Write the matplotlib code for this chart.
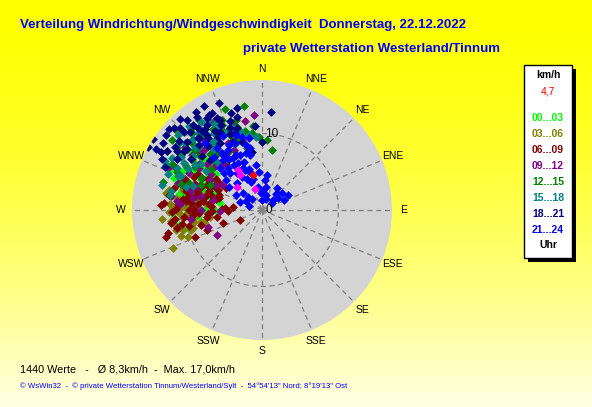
import numpy as np
import matplotlib
matplotlib.use('Agg')
import matplotlib.pyplot as plt

W_PX, H_PX = 592, 407

TITLE = 'Verteilung Windrichtung/Windgeschwindigkeit  Donnerstag, 22.12.2022'
SUBTITLE = 'private Wetterstation Westerland/Tinnum'
STATS = '1440 Werte   -   Ø 8,3km/h  -  Max. 17,0km/h'
FOOTER = '© WsWin32  -  © private Wetterstation Tinnum/Westerland/Sylt  -  54°54\'13" Nord; 8°19\'13" Ost'

directions = ['N', 'NNE', 'NE', 'ENE', 'E', 'ESE', 'SE', 'SSE',
              'S', 'SSW', 'SW', 'WSW', 'W', 'WNW', 'NW', 'NNW']
speed_max = 17.0
current_speed = 4.7
current_dir = 346

hour_labels = ['00...03', '03...06', '06...09', '09...12',
               '12...15', '15...18', '18...21', '21...24']
hour_colors = ['#00ff00', '#808000', '#800000', '#800080',
               '#008000', '#008080', '#000080', '#0000ff']

# wind direction (deg, clockwise from N) and speed (km/h), per 3-hour block
dir_00_03 = [256, 262, 268, 271, 275, 279, 283, 287, 290, 294, 298, 302, 306, 311, 316, 265, 273, 281, 289, 297,
             305, 270, 278, 286, 293, 300, 308, 260, 284, 292, 299, 274, 280, 288, 296, 303, 312, 267, 277, 285,
             276, 282, 291, 301, 309, 318, 263, 287, 295, 305, 279, 298]
spd_00_03 = [10.0, 9.2, 11.8, 7.5, 8.8, 10.5, 6.8, 9.6, 12.2, 8.1, 10.9, 7.4, 9.0, 11.1, 8.6, 8.4, 10.2, 12.5, 7.0, 11.4,
             9.8, 6.2, 9.1, 8.0, 13.0, 10.3, 7.7, 11.0, 10.8, 6.5, 9.4, 12.0, 5.6, 11.6, 8.9, 12.8, 10.0, 7.2, 8.3, 9.9,
             9.5, 11.0, 10.6, 8.3, 12.0, 9.6, 8.9, 7.9, 11.8, 10.7, 12.3, 6.9]

dir_03_06 = [247, 252, 256, 260, 263, 266, 269, 272, 275, 278, 281, 284, 288, 258, 264, 270, 276, 282,
             254, 261, 267, 273, 279, 285, 250, 259, 268, 274, 280, 287, 262, 271, 277, 265, 283,
             257, 263, 268, 271, 277, 283, 255, 266, 274, 286]
spd_03_06 = [12.6, 11.2, 10.7, 9.0, 12.0, 8.5, 12.2, 10.1, 9.3, 11.4, 8.2, 10.6, 9.7, 7.8, 10.4, 8.9, 7.4, 12.5,
             9.6, 11.7, 7.1, 11.9, 10.0, 8.6, 10.3, 8.1, 9.8, 6.5, 12.8, 11.1, 6.9, 10.9, 8.4, 13.1, 9.2,
             11.6, 9.4, 10.8, 11.6, 10.8, 9.9, 9.3, 9.7, 12.0, 7.6]

dir_06_09 = [245, 250, 254, 258, 261, 264, 267, 270, 272, 274, 276, 278, 280, 282, 284, 286, 288, 290, 292, 295,
             298, 301, 304, 252, 256, 260, 263, 266, 269, 271, 273, 275, 277, 279, 281, 283, 285, 287, 289, 291,
             294, 297, 300, 262, 268, 274, 279, 284, 290, 296, 248, 256, 265, 276, 273,
             266, 271, 276, 281, 286, 291, 296, 263, 269, 274, 284, 289, 258, 299, 302]
spd_06_09 = [3.2, 7.6, 13.0, 9.8, 6.0, 11.5, 8.3, 9.5, 5.2, 12.8, 7.0, 10.4, 6.6, 8.8, 11.9, 5.8, 9.2, 7.4, 10.8, 6.3,
             8.9, 5.5, 7.2, 5.4, 8.2, 10.6, 7.3, 9.0, 6.5, 11.2, 4.8, 8.4, 10.0, 7.8, 9.7, 6.2, 8.6, 10.5, 5.9, 9.4,
             7.9, 6.9, 8.1, 12.0, 4.4, 6.7, 12.3, 7.5, 11.0, 9.9, 9.5, 12.7, 10.2, 3.8, 13.2,
             7.1, 8.9, 9.3, 8.0, 7.0, 8.5, 7.3, 9.3, 11.8, 11.0, 10.2, 9.8, 11.3, 9.6, 6.6]

dir_09_12 = [241, 252, 263, 270, 276, 282, 287, 292, 296, 300, 304, 308, 312, 316, 320, 324, 328, 331, 335, 339,
             344, 349, 355, 268, 279, 290, 298, 306, 314, 322, 330, 338, 285, 294, 302, 310, 318, 326, 274, 283,
             288, 297, 305, 313, 321, 333, 341, 280, 309, 317]
spd_09_12 = [6.8, 7.4, 9.3, 8.0, 11.2, 6.5, 10.4, 8.7, 12.7, 7.8, 9.9, 11.6, 8.4, 10.9, 12.3, 9.2, 11.0, 13.1, 8.6, 10.3,
             9.5, 11.8, 12.5, 5.5, 12.0, 9.0, 7.0, 10.2, 12.9, 7.6, 8.8, 11.4, 9.6, 13.5, 6.2, 9.4, 7.9, 10.6, 10.8, 8.2,
             11.6, 10.7, 8.1, 11.2, 10.8, 9.8, 12.0, 9.2, 13.0, 9.0]

dir_12_15 = [286, 290, 294, 298, 302, 306, 309, 313, 317, 320, 322, 325, 328, 331, 334, 337, 341, 344, 346, 350,
             354, 358, 4, 9.5, 296, 304, 311, 318, 326, 333, 340, 348, 300, 315, 329, 292, 308, 323, 336,
             288, 297, 303, 312, 319, 327, 335, 343, 353, 306, 314, 321]
spd_12_15 = [13.4, 10.2, 12.1, 9.0, 14.6, 11.3, 8.5, 15.5, 10.0, 12.6, 9.4, 14.4, 11.7, 8.8, 13.0, 10.5, 9.7, 12.2, 8.3, 13.8,
             11.0, 9.6, 9.2, 8.0, 7.6, 12.8, 10.8, 13.6, 7.9, 11.9, 14.0, 10.6, 11.5, 9.3, 12.4, 8.6, 14.9, 10.1, 12.9,
             11.2, 13.2, 10.4, 11.8, 14.1, 10.9, 12.3, 11.4, 10.2, 13.7, 12.5, 11.1]

dir_15_18 = [279, 282, 287, 291, 295, 299, 303, 307, 311, 315, 319, 323, 327, 331, 336, 340, 345, 350, 355,
             289, 297, 305, 313, 321, 329, 338, 301, 317, 325, 293, 309,
             284, 292, 300, 308, 316, 324, 332, 341, 304, 312, 320, 328, 296]
spd_15_18 = [12.2, 12.2, 10.4, 13.1, 13.8, 11.0, 12.7, 10.0, 13.3, 11.6, 14.6, 12.4, 10.9, 12.9, 11.2, 11.7, 10.5, 9.9, 9.6,
             9.5, 14.2, 9.0, 12.0, 10.2, 13.7, 9.3, 11.9, 8.6, 14.0, 11.5, 13.9,
             13.5, 11.9, 13.6, 11.5, 12.9, 11.0, 12.1, 10.9, 10.5, 14.7, 13.1, 11.8, 12.4]

dir_18_21 = [294, 297, 299, 300, 302, 303, 304, 305, 307, 310, 313, 315, 317, 319, 321, 323, 325, 327, 329, 331,
             333, 335, 338, 340, 343, 346, 350, 355, 0, 5, 306, 309, 312, 316, 320, 324, 328, 332, 336, 341,
             345, 311, 318, 326, 334, 314, 322, 329,
             301, 306, 312, 318, 323, 329, 334, 339, 344, 315, 320, 325, 331, 337, 342, 308, 300]
spd_18_21 = [13.9, 14.7, 17.0, 15.3, 14.6, 17.0, 15.6, 13.5, 12.8, 14.1, 15.8, 15.2, 13.9, 12.5, 14.3, 11.8, 14.8, 13.2, 12.0, 15.6,
             14.3, 13.0, 15.1, 12.4, 11.2, 13.7, 7.7, 11.0, 8.9, 12.9, 11.4, 12.7, 10.6, 11.9, 10.9, 12.2, 10.4, 11.6, 9.8, 10.7,
             12.6, 16.2, 16.0, 15.4, 13.4, 9.5, 13.6, 14.0,
             13.0, 14.0, 13.2, 12.6, 13.0, 11.2, 12.3, 11.5, 9.3, 14.5, 15.3, 12.9, 14.2, 10.8, 13.3, 15.9, 16.0]

dir_21_24 = [345, 338, 337, 317, 312, 319, 322, 324, 330, 335, 340, 343, 348, 352, 356, 328, 332, 318, 326, 334,
             341, 346, 350, 310, 315, 305, 300, 320, 325, 333, 339, 344,
             321, 327, 333, 338, 344, 349, 314, 329, 336, 342, 331, 325,
             0, 3, 6, 8, 350, 355, 318, 312, 300, 290, 285, 34, 42, 50, 53, 55, 47, 40, 60, 65, 20, 15, 10]
spd_21_24 = [9.9, 7.7, 5.7, 4.8, 3.3, 6.4, 8.3, 10.1, 9.0, 8.0, 6.7, 5.2, 7.4, 6.0, 5.0, 7.0, 11.0, 9.3, 5.8, 4.5,
             10.4, 8.8, 9.6, 6.1, 7.8, 5.3, 4.0, 11.5, 8.6, 6.9, 3.9, 4.2,
             7.0, 7.9, 9.6, 9.4, 7.7, 8.2, 6.9, 5.1, 6.0, 5.6, 7.8, 9.1,
             1.3, 2.6, 3.9, 4.6, 3.0, 2.2, 1.9, 2.5, 2.4, 3.0, 1.8, 3.5, 3.0, 3.4, 2.6, 1.6, 2.0, 2.8, 4.0, 3.2, 1.5, 2.0, 3.0]

# a few highlighted recent values
dir_recent = [329, 342, 328, 313]
spd_recent = [6.1, 2.9, 5.4, 4.4]

hour_dirs = [dir_00_03, dir_03_06, dir_06_09, dir_09_12, dir_12_15, dir_15_18, dir_18_21, dir_21_24]
hour_spds = [spd_00_03, spd_03_06, spd_06_09, spd_09_12, spd_12_15, spd_15_18, spd_18_21, spd_21_24]

plt.rcParams['font.family'] = ['Liberation Sans', 'DejaVu Sans']

fig = plt.figure(figsize=(W_PX / 100, H_PX / 100), dpi=100)

# yellow background gradient
bg = fig.add_axes([0, 0, 1, 1])
grad = np.linspace(0, 1, 256)[:, None]
img = np.ones((256, 1, 3))
img[..., 2] = 0.9 * grad ** 1.6
bg.imshow(img, aspect='auto', extent=[0, 1, 0, 1], origin='upper')
bg.set_axis_off()

# polar area: centre (262,210), radius 130 px
cx, cy, rad = 262, 210, 130
ax = fig.add_axes([(cx - rad) / W_PX, (H_PX - cy - rad) / H_PX, 2 * rad / W_PX, 2 * rad / H_PX],
                  projection='polar')
ax.set_theta_zero_location('N')
ax.set_theta_direction(-1)
ax.set_ylim(0, speed_max)
ax.set_facecolor('#d4d4d4')
ax.spines['polar'].set_visible(False)
ax.grid(False)
ax.set_xticks([])
ax.set_yticks([])

grid_kw = dict(color='#808080', lw=0.9, ls=(0, (4, 3)), zorder=1)
for i in range(16):
    th = np.deg2rad(i * 22.5)
    ax.plot([th, th], [0, speed_max], **grid_kw)
ring = np.linspace(0, 2 * np.pi, 300)
ax.plot(ring, np.full_like(ring, 10.0), **grid_kw)

for i, name in enumerate(directions):
    ax.text(np.deg2rad(i * 22.5), 18.5, name, ha='center', va='center',
            fontsize=7.5, color='black', clip_on=False)

ax.annotate('0', xy=(0, 0), xytext=(2.5, 0), textcoords='offset points',
            ha='left', va='center', fontsize=8.5, zorder=5)
ax.annotate('10', xy=(0, 10), xytext=(2.5, 0), textcoords='offset points',
            ha='left', va='center', fontsize=8.5, zorder=5)

for dirs, spds, col in zip(hour_dirs, hour_spds, hour_colors):
    ax.scatter(np.deg2rad(dirs), spds, marker='D', s=20, color=col, linewidths=0, zorder=3)
ax.scatter(np.deg2rad(dir_recent), spd_recent, marker='D', s=20, color='#ff00ff', linewidths=0, zorder=3)
ax.scatter([np.deg2rad(current_dir)], [current_speed], marker='D', s=20, color='#ff0000', linewidths=0, zorder=4)

# titles and footer
fig.text(20 / W_PX, 1 - 25 / H_PX, TITLE, color='#0000ff', fontsize=9.5, fontweight='bold',
         ha='left', va='center')
fig.text(243 / W_PX, 1 - 49 / H_PX, SUBTITLE, color='#0000ff', fontsize=9.5, fontweight='bold',
         ha='left', va='center')
fig.text(20 / W_PX, 1 - 370 / H_PX, STATS, color='black', fontsize=7.8, ha='left', va='center')
fig.text(20 / W_PX, 1 - 386 / H_PX, FOOTER, color='#0000ff', fontsize=5.6, ha='left', va='center')

# legend box with shadow
lx0, ly0, lx1, ly1 = 524, 65, 572, 258
shadow = plt.Rectangle(((lx0 + 4) / W_PX, 1 - (ly1 + 4) / H_PX), (lx1 - lx0) / W_PX, (ly1 - ly0) / H_PX,
                       transform=fig.transFigure, facecolor='black', edgecolor='none', zorder=1)
box = plt.Rectangle((lx0 / W_PX, 1 - ly1 / H_PX), (lx1 - lx0) / W_PX, (ly1 - ly0) / H_PX,
                    transform=fig.transFigure, facecolor='white', edgecolor='black', lw=1, zorder=2)
fig.patches.extend([shadow, box])

lxc = 548 / W_PX
fig.text(lxc, 1 - 75 / H_PX, 'km/h', color='black', fontsize=7.5, fontweight='bold', ha='center', va='center', zorder=3)
fig.text(lxc, 1 - 92 / H_PX, str(current_speed).replace('.', ','), color='#ff0000', fontsize=7.5,
         ha='center', va='center', zorder=3)
for k, (lab, col) in enumerate(zip(hour_labels, hour_colors)):
    fig.text(lxc, 1 - (118 + 16 * k) / H_PX, lab, color=col, fontsize=7.5, fontweight='bold',
             ha='center', va='center', zorder=3)
fig.text(lxc, 1 - 245 / H_PX, 'Uhr', color='black', fontsize=7.5, fontweight='bold', ha='center', va='center', zorder=3)

fig.savefig('out.png', dpi=100)
